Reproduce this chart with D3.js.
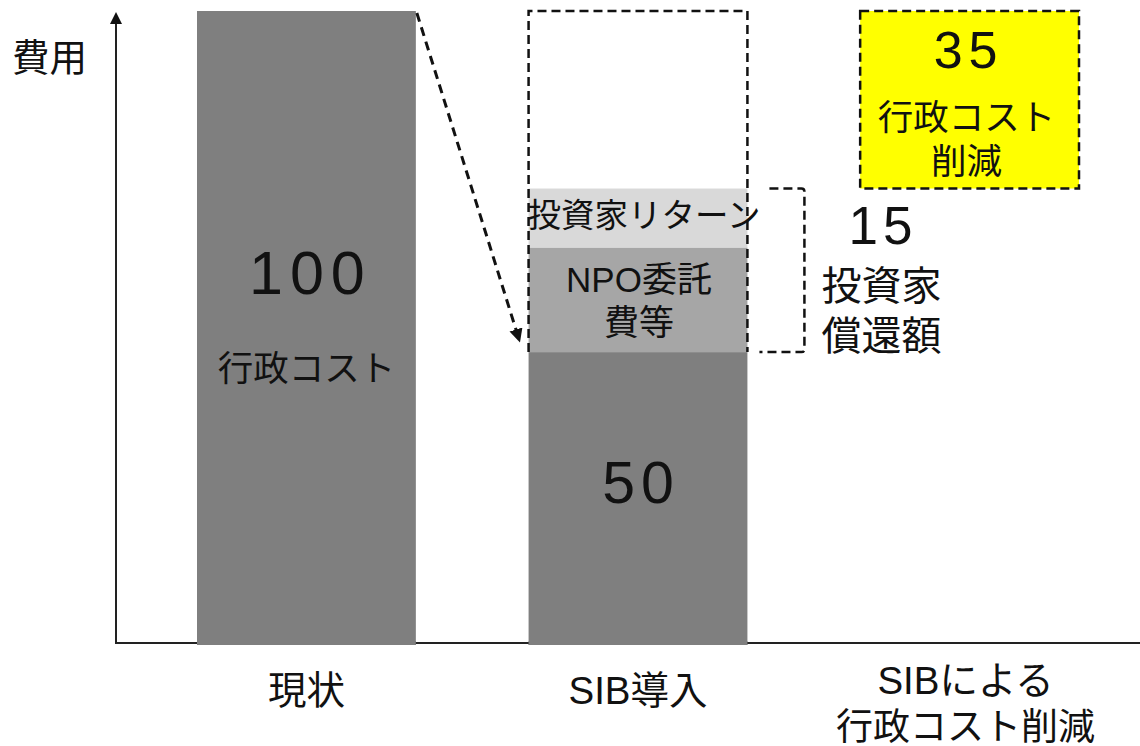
<!DOCTYPE html>
<html lang="ja">
<head>
<meta charset="utf-8">
<title>SIB cost chart</title>
<script src="https://cdn.jsdelivr.net/npm/d3@7"></script>
<style>
  body { margin: 0; background: #fff; }
  svg text { font-family: "Liberation Sans", "Noto Sans CJK JP", sans-serif; fill: #111; }
</style>
</head>
<body>
<script>
// categories on the x axis (multi-line labels)
var categories = ["現状", "SIB導入", "SIBによる行政コスト削減"];
var categoryLines = [["現状"], ["SIB導入"], ["SIBによる", "行政コスト削減"]];

// current cost (bar 1) and the SIB stack (bar 2), as drawn in the picture
var currentCost = 100;
var segmentNames = ["行政コスト", "NPO委託費等", "投資家リターン"];
var segmentValues = [46.2, 16.5, 9.3];
var segmentColors = ["#7f7f7f", "#a6a6a6", "#d9d9d9"];
var savedValue = 28;

// value labels printed on the chart
var currentLabel = "100";
var adminLabel = "50";
var repayLabel = "15";
var savedLabel = "35";

var w = 1140, h = 746;
var svg = d3.select("body").append("svg").attr("width", w).attr("height", h);

var x = d3.scaleBand().domain(categories).range([197, 1079]).paddingInner(0.34).paddingOuter(0);
var y = d3.scaleLinear().domain([0, 100]).range([645, 11]);
var bw = x.bandwidth();
var axisX = 116, axisY = 643;

var defs = svg.append("defs");
defs.append("marker").attr("id", "head").attr("viewBox", "0 0 10 10")
  .attr("refX", 9).attr("refY", 5).attr("markerWidth", 4.5).attr("markerHeight", 4.5)
  .attr("orient", "auto")
  .append("path").attr("d", "M0,0L10,5L0,10Z").attr("fill", "#111");

// bar 1
svg.append("rect")
  .attr("x", x(categories[0])).attr("y", y(currentCost))
  .attr("width", bw).attr("height", y(0) - y(currentCost))
  .attr("fill", segmentColors[0]);

// bar 2 stacked
var stacked = [];
var acc = 0;
segmentValues.forEach(function(v, i) {
  stacked.push({ y0: acc, y1: acc + v, name: segmentNames[i], color: segmentColors[i] });
  acc += v;
});
svg.selectAll("rect.seg").data(stacked).enter().append("rect")
  .attr("class", "seg")
  .attr("x", x(categories[1]))
  .attr("y", function(d) { return y(d.y1); })
  .attr("width", bw)
  .attr("height", function(d) { return y(d.y0) - y(d.y1); })
  .attr("fill", function(d) { return d.color; });

// axes
svg.append("line").attr("x1", axisX).attr("x2", w).attr("y1", axisY).attr("y2", axisY)
  .attr("stroke", "#222").attr("stroke-width", 2);
svg.append("line").attr("x1", axisX).attr("x2", axisX).attr("y1", axisY + 1).attr("y2", 22)
  .attr("stroke", "#222").attr("stroke-width", 2);
svg.append("path")
  .attr("d", "M" + (axisX - 6) + ",24L" + axisX + ",12L" + (axisX + 6) + ",24Z")
  .attr("fill", "#111");

// bars sit over the axis line
svg.append("rect").attr("x", x(categories[0])).attr("y", axisY - 2).attr("width", bw).attr("height", 4)
  .attr("fill", segmentColors[0]);
svg.append("rect").attr("x", x(categories[1])).attr("y", axisY - 2).attr("width", bw).attr("height", 4)
  .attr("fill", segmentColors[0]);

// dashed outline over the part of bar 2 above admin cost
var x2 = x(categories[1]);
svg.append("path")
  .attr("d", "M" + x2 + "," + y(segmentValues[0]) + "V" + y(100) + "H" + (x2 + bw) + "V" + y(segmentValues[0]))
  .attr("fill", "none").attr("stroke", "#111").attr("stroke-width", 2.5)
  .attr("stroke-dasharray", "9,5");

// dashed arrow from bar 1 to bar 2
svg.append("line")
  .attr("x1", x(categories[0]) + bw + 1).attr("y1", y(100) + 2)
  .attr("x2", x2 - 9).attr("y2", y(segmentValues[0]) - 11)
  .attr("stroke", "#111").attr("stroke-width", 3)
  .attr("stroke-dasharray", "9,6")
  .attr("marker-end", "url(#head)");

// bracket for investor repayment
var bTop = y(acc), bBot = y(segmentValues[0]);
var bx = x2 + bw;
svg.append("path")
  .attr("d", "M" + (bx + 22) + "," + bTop + "H" + (bx + 54) + "Q" + (bx + 57) + "," + bTop + " " + (bx + 57) + "," + (bTop + 3) +
             "V" + (bBot - 3) + "Q" + (bx + 57) + "," + bBot + " " + (bx + 54) + "," + bBot + "H" + (bx + 12))
  .attr("fill", "none").attr("stroke", "#111").attr("stroke-width", 2.5)
  .attr("stroke-dasharray", "9,5");

// yellow saved box
var x3 = x(categories[2]);
svg.append("rect")
  .attr("x", x3).attr("y", y(100))
  .attr("width", bw).attr("height", y(100 - savedValue) - y(100))
  .attr("fill", "#ffff00").attr("stroke", "#111").attr("stroke-width", 2.5)
  .attr("stroke-dasharray", "9,5");

function label(tx, ty, str, size, anchor, ls) {
  return svg.append("text").attr("x", tx).attr("y", ty)
    .attr("text-anchor", anchor || "middle")
    .attr("dominant-baseline", "central")
    .attr("font-size", size)
    .attr("letter-spacing", ls || 0)
    .text(str);
}

var c1 = x(categories[0]) + bw / 2, c2 = x2 + bw / 2, c3 = x3 + bw / 2;

// bar 1 labels
label(c1 + 4, 273, currentLabel, 61, "middle", 7);
label(c1, 369, segmentNames[0], 35.5);

// bar 2 labels
label(c2 + 3, 483, adminLabel, 59, "middle", 6);
label(c2 + 1, 279, "NPO委託", 35);
label(c2 + 1, 322, "費等", 35);
label(c2 + 6, 215, segmentNames[2], 33.5);

// investor repayment
label(bx + 101, 225, repayLabel, 53, "start", 5);
label(bx + 74, 286, "投資家", 40, "start");
label(bx + 74, 336, "償還額", 40, "start");

// saved box labels
label(c3 - 1, 50, savedLabel, 52, "middle", 6);
label(c3 - 3, 118, "行政コスト", 35.5);
label(c3 - 3, 162, "削減", 35.5);

// y axis title
label(12, 58, "費用", 37.5, "start");

// category labels
categoryLines.forEach(function(lines, i) {
  var cx = x(categories[i]) + bw / 2;
  if (i === 2) cx -= 4;
  var startY = lines.length === 1 ? 690 : 680;
  lines.forEach(function(t, j) {
    label(cx, startY + j * 47, t, j === 1 ? 37 : 38.5);
  });
});
</script>
</body>
</html>
